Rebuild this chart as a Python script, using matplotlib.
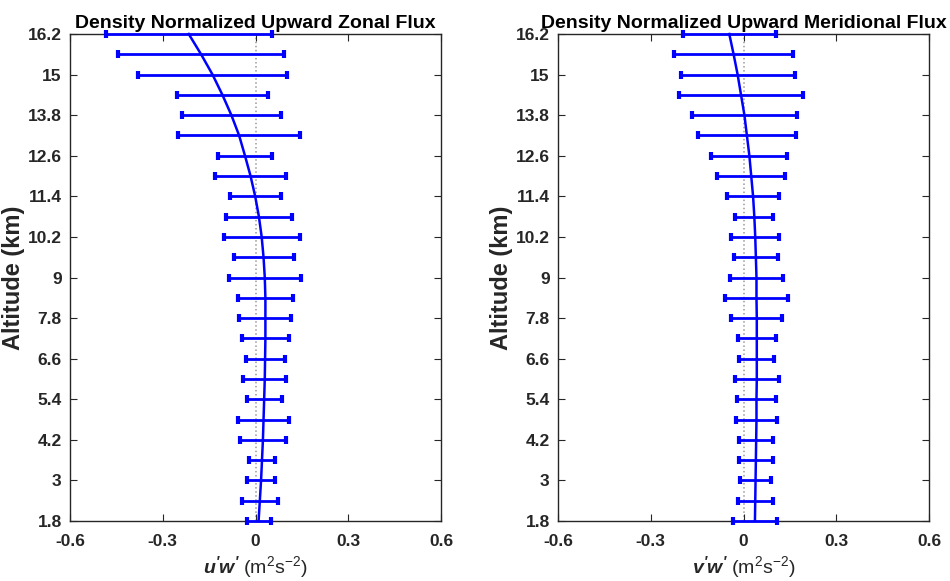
import numpy as np
import matplotlib
matplotlib.use("Agg")
import matplotlib.pyplot as plt

plt.rcParams["font.family"] = "Liberation Sans"
plt.rcParams["mathtext.fontset"] = "custom"
plt.rcParams["mathtext.rm"] = "Liberation Sans"
plt.rcParams["mathtext.bf"] = "Liberation Sans:bold"
plt.rcParams["mathtext.it"] = "Liberation Sans:italic"
plt.rcParams["mathtext.bfit"] = "Liberation Sans:bold:italic"

# altitude levels (km)
alt = [1.8, 2.4, 3.0, 3.6, 4.2, 4.8, 5.4, 6.0, 6.6, 7.2, 7.8, 8.4, 9.0,
       9.6, 10.2, 10.8, 11.4, 12.0, 12.6, 13.2, 13.8, 14.4, 15.0, 15.6, 16.2]

# zonal flux u'w' : fitted profile and error half-widths
uw_fit = [0.010, 0.014, 0.018, 0.021, 0.024, 0.026, 0.028, 0.030, 0.031, 0.032, 0.032, 0.032, 0.030,
          0.026, 0.020, 0.011, -0.001, -0.016, -0.034, -0.053, -0.078, -0.107, -0.139, -0.176, -0.216]
uw_err = [0.039, 0.058, 0.046, 0.042, 0.075, 0.082, 0.057, 0.069, 0.063, 0.075, 0.084, 0.088, 0.116,
          0.097, 0.123, 0.107, 0.082, 0.116, 0.088, 0.198, 0.161, 0.148, 0.240, 0.268, 0.268]

# meridional flux v'w'
vw_fit = [0.037, 0.038, 0.039, 0.040, 0.041, 0.042, 0.042, 0.043, 0.043, 0.043, 0.043, 0.042, 0.042,
          0.040, 0.038, 0.035, 0.031, 0.025, 0.019, 0.011, 0.003, -0.008, -0.019, -0.032, -0.046]
vw_err = [0.072, 0.057, 0.049, 0.056, 0.055, 0.065, 0.064, 0.071, 0.057, 0.062, 0.083, 0.101, 0.086,
          0.071, 0.078, 0.062, 0.083, 0.110, 0.123, 0.158, 0.170, 0.202, 0.184, 0.193, 0.150]

yticks = [1.8, 3, 4.2, 5.4, 6.6, 7.8, 9, 10.2, 11.4, 12.6, 13.8, 15, 16.2]
ytick_labels = ["1.8", "3", "4.2", "5.4", "6.6", "7.8", "9", "10.2", "11.4", "12.6", "13.8", "15", "16.2"]
xticks = [-0.6, -0.3, 0, 0.3, 0.6]
xtick_labels = ["-0.6", "-0.3", "0", "0.3", "0.6"]
ref_x = 0.003

BLUE = "#0000FF"
AXC = "#262626"

fig = plt.figure(figsize=(9.5, 5.81), dpi=100)
ax1 = fig.add_axes([70/950, 60/581, 371/950, 487/581])
ax2 = fig.add_axes([558/950, 60/581, 371/950, 487/581])

panels = [(ax1, uw_fit, uw_err, "Density Normalized Upward Zonal Flux",
           r"$\mathbfit{u'w'}$ (m$^2$s$^{-2}$)"),
          (ax2, vw_fit, vw_err, "Density Normalized Upward Meridional Flux",
           r"$\mathbfit{v'w'}$ (m$^2$s$^{-2}$)")]

for ax, fit, err, title, xlab in panels:
    ax.axvline(ref_x, color="#9a9a9a", ls=":", lw=1.1, zorder=1)
    # bars sit on top of the frame so the 1.8 / 16.2 rows stay visible
    eb = ax.errorbar(fit, alt, xerr=err, fmt="none", ecolor=BLUE, elinewidth=2.0,
                     capsize=2.6, capthick=3.0, zorder=3)
    for art in eb.lines[1] + eb.lines[2]:
        art.set_clip_on(False)
    ax.plot(fit, alt, color=BLUE, lw=1.8, zorder=4, clip_on=False)
    ax.set_xlim(-0.6, 0.6)
    ax.set_ylim(1.8, 16.2)
    ax.set_xticks(xticks)
    ax.set_xticklabels(xtick_labels)
    ax.set_yticks(yticks)
    ax.set_yticklabels(ytick_labels)
    ax.tick_params(direction="in", top=True, right=True, length=5, width=0.8,
                   colors=AXC, labelsize=12.5)
    ax.tick_params(axis="x", pad=9)
    ax.tick_params(axis="y", pad=6)
    for lbl in ax.get_xticklabels() + ax.get_yticklabels():
        lbl.set_fontweight("bold")
    for s in ax.spines.values():
        s.set_color(AXC)
        s.set_linewidth(1.0)
    ax.set_title(title, fontsize=14, fontweight="bold", color="black", pad=4)
    ax.set_xlabel(xlab, fontsize=14, color=AXC, labelpad=4)
    ax.set_ylabel("Altitude (km)", fontsize=17, fontweight="bold", color=AXC, labelpad=2)

fig.savefig("out.png", dpi=100, facecolor="white")
